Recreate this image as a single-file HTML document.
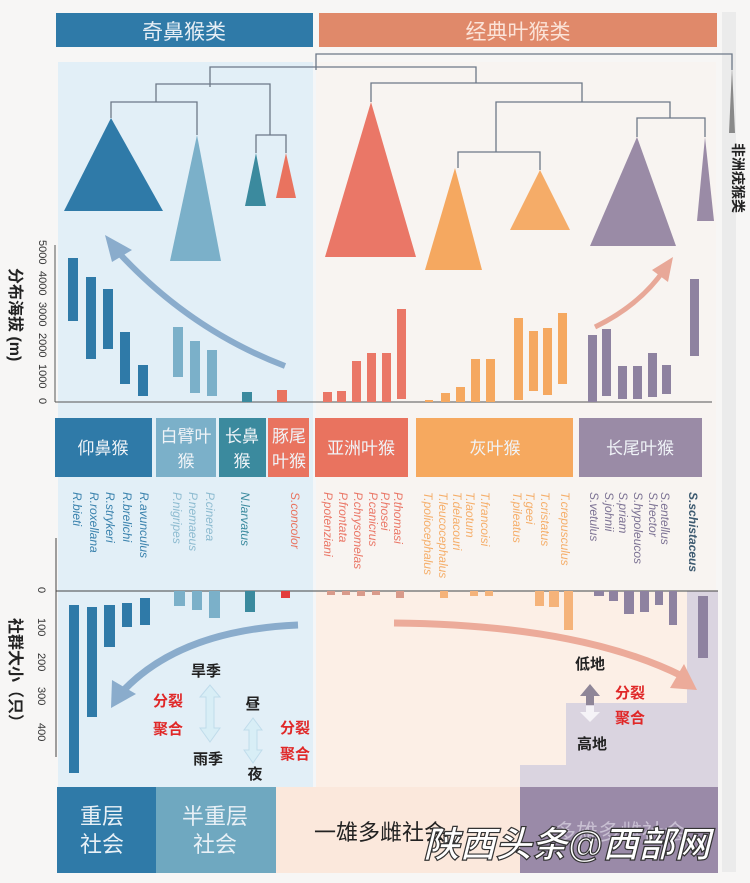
<!DOCTYPE html>
<html><head><meta charset="utf-8"><style>
html,body{margin:0;padding:0;background:#f6f6f6;}
svg{display:block;font-family:"Liberation Sans","Noto Sans CJK SC",sans-serif;}
</style></head><body>
<svg width="750" height="883" viewBox="0 0 750 883" xmlns="http://www.w3.org/2000/svg">
<rect width="750" height="883" fill="#f7f6f5"/>
<rect x="722" y="12" width="14" height="860" fill="#ebebeb"/>
<rect x="58" y="62" width="255" height="725" fill="#e2eff7"/>
<rect x="316" y="62" width="400" height="530" fill="#f8f4f1"/>
<rect x="316" y="592" width="402" height="195" fill="#fcefe6"/>
<rect x="313" y="62" width="3" height="725" fill="#f4f6f8"/>
<path d="M520 787 L520 765 L566 765 L566 703 L687 703 L687 591 L718 591 L718 787 Z" fill="#dad4e0"/>
<rect x="56" y="13" width="257" height="34" fill="#2f7aa8"/>
<text x="184" y="39" font-size="21" fill="#e6eef5" text-anchor="middle">奇鼻猴类</text>
<rect x="319" y="13" width="398" height="34" fill="#e0896a"/>
<text x="518" y="39" font-size="21" fill="#fbe3d8" text-anchor="middle">经典叶猴类</text>
<g stroke="#6d7888" stroke-width="1.3" fill="none">
<path d="M316 70 V54 H732 V70"/>
<path d="M210 87 V67 H476 V83"/>
<path d="M156 102 V84 H270 V135"/>
<path d="M111 118 V102 H197 V135"/>
<path d="M256 153 V135 H286 V153"/>
<path d="M371 102 V83 H582 V102"/>
<path d="M458 168 V152 H540 V170"/>
<path d="M496 152 V102 H670 V118"/>
<path d="M637 137 V118 H705 V137"/>
</g>
<polygon points="111,118 64,211 163,211" fill="#2f7aa8"/>
<polygon points="197,135 170,261 221,261" fill="#7bb0c9"/>
<polygon points="256,153 245,206 266,206" fill="#3b8a9e"/>
<polygon points="286,153 276,198 296,198" fill="#e9735f"/>
<polygon points="371,102 325,257 416,257" fill="#ea7767"/>
<polygon points="455,168 425,270 482,270" fill="#f5a860"/>
<polygon points="540,170 510,230 570,230" fill="#f5ac68"/>
<polygon points="637,137 590,246 676,246" fill="#9a8ba6"/>
<polygon points="705,137 697,221 714,221" fill="#9a8ba6"/>
<polygon points="732,67 729,133 735,133" fill="#8a8a8a"/>
<text transform="translate(733,143) rotate(90)" font-size="14" fill="#222" font-weight="bold">非洲疣猴类</text>
<line x1="55" y1="245" x2="55" y2="402" stroke="#555" stroke-width="1"/>
<line x1="55" y1="402" x2="712" y2="402" stroke="#555" stroke-width="1"/>
<g font-size="11" fill="#333">
<text transform="translate(39,240) rotate(90)">5000</text>
<text transform="translate(39,271) rotate(90)">4000</text>
<text transform="translate(39,302) rotate(90)">3000</text>
<text transform="translate(39,333) rotate(90)">2000</text>
<text transform="translate(39,364) rotate(90)">1000</text>
<text transform="translate(39,398) rotate(90)">0</text>
</g>
<text transform="translate(10,268) rotate(90)" font-size="16" font-weight="bold" fill="#222">分布海拔 (m)</text>
<g fill="#2f7aa8"><rect x="68" y="258" width="10" height="63"/><rect x="86" y="277" width="10" height="82"/><rect x="103" y="289" width="10" height="60"/><rect x="120" y="332" width="10" height="52"/><rect x="138" y="365" width="10" height="31"/></g>
<g fill="#7bb0c9"><rect x="173" y="327" width="10" height="50"/><rect x="190" y="341" width="10" height="52"/><rect x="207" y="350" width="10" height="46"/></g>
<rect x="242" y="392" width="10" height="10" fill="#3b8a9e"/>
<rect x="277" y="390" width="10" height="12" fill="#e9735f"/>
<g fill="#ea7767"><rect x="323" y="392" width="9" height="10"/><rect x="337" y="391" width="9" height="11"/><rect x="352" y="361" width="9" height="41"/><rect x="367" y="353" width="9" height="49"/><rect x="382" y="353" width="9" height="49"/><rect x="397" y="309" width="9" height="90"/></g>
<g fill="#f5a860"><rect x="425" y="400" width="8" height="2"/><rect x="441" y="393" width="9" height="9"/><rect x="456" y="387" width="9" height="15"/><rect x="471" y="359" width="9" height="43"/><rect x="486" y="359" width="9" height="43"/><rect x="514" y="318" width="9" height="82"/><rect x="529" y="331" width="9" height="60"/><rect x="543" y="328" width="9" height="67"/><rect x="558" y="313" width="9" height="71"/></g>
<g fill="#8e82a0"><rect x="588" y="335" width="9" height="67"/><rect x="602" y="329" width="9" height="67"/><rect x="618" y="366" width="9" height="33"/><rect x="633" y="366" width="9" height="33"/><rect x="648" y="353" width="9" height="44"/><rect x="662" y="365" width="9" height="29"/><rect x="690" y="279" width="9" height="77"/></g>
<path d="M285 366 Q190 330 118 252" stroke="#8aaccc" stroke-width="6" fill="none"/>
<polygon points="105,235 132,250 112,262" fill="#8aaccc"/>
<path d="M595 327 Q640 305 664 270" stroke="#e8a898" stroke-width="5" fill="none"/>
<polygon points="673,257 668,282 652,270" fill="#e8a898"/>
<g font-size="17" fill="#f0f4f8" text-anchor="middle">
<rect x="55" y="418" width="97" height="59" fill="#2f7aa8"/><text x="103" y="454">仰鼻猴</text>
<rect x="156" y="418" width="60" height="59" fill="#7bb0c9"/><text x="186" y="442">白臂叶</text><text x="186" y="467">猴</text>
<rect x="219" y="418" width="47" height="59" fill="#3b8a9e"/><text x="242" y="442">长鼻</text><text x="242" y="467">猴</text>
<rect x="268" y="418" width="41" height="59" fill="#e9735f"/><text x="289" y="442">豚尾</text><text x="289" y="467">叶猴</text>
<rect x="315" y="418" width="93" height="59" fill="#e9735f"/><text x="361" y="454">亚洲叶猴</text>
<rect x="416" y="418" width="157" height="59" fill="#f6a95f"/><text x="495" y="454">灰叶猴</text>
<rect x="579" y="418" width="123" height="59" fill="#9a8ba6"/><text x="640" y="454">长尾叶猴</text>
</g>
<g font-size="12" font-style="italic">
<g fill="#3a82ad">
<text transform="translate(73,492) rotate(90)">R.bieti</text>
<text transform="translate(90,492) rotate(90)">R.roxellana</text>
<text transform="translate(106,492) rotate(90)">R.strykeri</text>
<text transform="translate(123,492) rotate(90)">R.brelichi</text>
<text transform="translate(140,492) rotate(90)">R.avunculus</text>
</g>
<g fill="#8dbbd0">
<text transform="translate(173,492) rotate(90)">P.nigripes</text>
<text transform="translate(189,492) rotate(90)">P.nemaeus</text>
<text transform="translate(206,492) rotate(90)">P.cinerea</text>
</g>
<text transform="translate(241,492) rotate(90)" fill="#3b8a9e">N.larvatus</text>
<text transform="translate(291,492) rotate(90)" fill="#e9735f">S.concolor</text>
<g fill="#ea7767">
<text transform="translate(324,492) rotate(90)">P.potenziani</text>
<text transform="translate(339,492) rotate(90)">P.frontata</text>
<text transform="translate(354,492) rotate(90)">P.chrysomelas</text>
<text transform="translate(369,492) rotate(90)">P.canicrus</text>
<text transform="translate(381,492) rotate(90)">P.hosei</text>
<text transform="translate(394,492) rotate(90)">P.thomasi</text>
</g>
<g fill="#f5ae6a">
<text transform="translate(424,492) rotate(90)">T.poliocephalus</text>
<text transform="translate(439,492) rotate(90)">T.leucocephalus</text>
<text transform="translate(453,492) rotate(90)">T.delacouri</text>
<text transform="translate(466,492) rotate(90)">T.laotum</text>
<text transform="translate(481,492) rotate(90)">T.francoisi</text>
<text transform="translate(513,492) rotate(90)">T.pileatus</text>
<text transform="translate(526,492) rotate(90)">T.geei</text>
<text transform="translate(541,492) rotate(90)">T.cristatus</text>
<text transform="translate(561,492) rotate(90)">T.crepusculus</text>
</g>
<g fill="#7d7394">
<text transform="translate(590,492) rotate(90)">S.vetulus</text>
<text transform="translate(605,492) rotate(90)">S.johnii</text>
<text transform="translate(619,492) rotate(90)">S.priam</text>
<text transform="translate(634,492) rotate(90)">S.hypoleucos</text>
<text transform="translate(649,492) rotate(90)">S.hector</text>
<text transform="translate(661,492) rotate(90)">S.entellus</text>
</g>
<text transform="translate(689,492) rotate(90)" fill="#3d5a70" font-weight="bold">S.schistaceus</text>
</g>
<line x1="56" y1="538" x2="56" y2="757" stroke="#444" stroke-width="1"/>
<line x1="56" y1="591" x2="718" y2="591" stroke="#444" stroke-width="1"/>
<g font-size="11" fill="#333">
<text transform="translate(38,587) rotate(90)">0</text>
<text transform="translate(38,618) rotate(90)">100</text>
<text transform="translate(38,653) rotate(90)">200</text>
<text transform="translate(38,687) rotate(90)">300</text>
<text transform="translate(38,723) rotate(90)">400</text>
</g>
<text transform="translate(10,618) rotate(90)" font-size="16" font-weight="bold" fill="#222">社群大小（只）</text>
<g fill="#2f7aa8"><rect x="69" y="605" width="10" height="168"/><rect x="87" y="607" width="10" height="110"/><rect x="104" y="605" width="11" height="42"/><rect x="122" y="603" width="10" height="24"/><rect x="140" y="598" width="10" height="27"/></g>
<g fill="#7bb0c9"><rect x="174" y="591" width="11" height="15"/><rect x="192" y="591" width="10" height="19"/><rect x="209" y="591" width="11" height="27"/></g>
<rect x="245" y="591" width="10" height="21" fill="#3b8a9e"/>
<rect x="281" y="591" width="9" height="7" fill="#e23c3c"/>
<g fill="#d99a8a"><rect x="327" y="591" width="8" height="4"/><rect x="342" y="591" width="8" height="4"/><rect x="357" y="591" width="8" height="5"/><rect x="372" y="591" width="8" height="4"/><rect x="396" y="591" width="8" height="7"/></g>
<g fill="#f5b37a"><rect x="440" y="591" width="8" height="7"/><rect x="470" y="591" width="8" height="5"/><rect x="485" y="591" width="8" height="5"/><rect x="535" y="591" width="9" height="15"/><rect x="549" y="591" width="10" height="16"/><rect x="564" y="591" width="9" height="39"/></g>
<g fill="#8e82a0"><rect x="594" y="591" width="10" height="5"/><rect x="609" y="591" width="9" height="10"/><rect x="624" y="591" width="10" height="23"/><rect x="640" y="591" width="9" height="21"/><rect x="655" y="591" width="8" height="14"/><rect x="669" y="591" width="8" height="34"/><rect x="698" y="596" width="10" height="62"/></g>
<path d="M298 625 Q180 630 122 692" stroke="#8aaccc" stroke-width="7" fill="none"/>
<polygon points="111,708 112,680 136,694" fill="#8aaccc"/>
<path d="M394 623 Q580 625 682 676" stroke="#ecab9a" stroke-width="7" fill="none"/>
<polygon points="697,690 670,688 684,664" fill="#ecab9a"/>
<g font-size="15" font-weight="bold" text-anchor="middle">
<text x="206" y="676" fill="#222">旱季</text>
<text x="168" y="706" fill="#e02828">分裂</text>
<text x="168" y="734" fill="#e02828">聚合</text>
<text x="208" y="764" fill="#222">雨季</text>
<text x="253" y="709" fill="#222">昼</text>
<text x="255" y="779" fill="#222">夜</text>
<text x="295" y="733" fill="#e02828">分裂</text>
<text x="295" y="759" fill="#e02828">聚合</text>
<text x="590" y="669" fill="#222">低地</text>
<text x="630" y="698" fill="#e02828">分裂</text>
<text x="630" y="723" fill="#e02828">聚合</text>
<text x="592" y="749" fill="#222">高地</text>
</g>
<g fill="#d8eef6" stroke="#c0dceb" stroke-width="1">
<polygon points="210,685 200,697 206,697 206,728 200,728 210,742 220,728 214,728 214,697 220,697"/>
<polygon points="253,718 244,730 249,730 249,750 244,750 253,763 262,750 257,750 257,730 262,730"/>
</g>
<polygon points="590,684 580,696 586,696 586,705 594,705 594,696 600,696" fill="#8f8698"/>
<polygon points="590,722 580,712 586,712 586,706 594,706 594,712 600,712" fill="#f5f3f7"/>
<rect x="57" y="787" width="99" height="86" fill="#2f7aa8"/>
<rect x="156" y="787" width="120" height="86" fill="#6fa8c0"/>
<rect x="276" y="787" width="244" height="86" fill="#fbe8dc"/>
<rect x="520" y="787" width="198" height="86" fill="#9a8aa8"/>
<g font-size="22" text-anchor="middle">
<text x="102" y="824" fill="#e8f0f6">重层</text><text x="102" y="852" fill="#e8f0f6">社会</text>
<text x="215" y="824" fill="#e8f0f6">半重层</text><text x="215" y="852" fill="#e8f0f6">社会</text>
<text x="380" y="840" fill="#222">一雄多雌社会</text>
<text x="620" y="840" fill="#c8bfd2">多雄多雌社会</text>
</g>
<text x="567" y="857" font-size="36" font-style="italic" font-weight="bold" fill="#fff" stroke="#333" stroke-width="1.2" text-anchor="middle">陕西头条@西部网</text>
</svg>
</body></html>
